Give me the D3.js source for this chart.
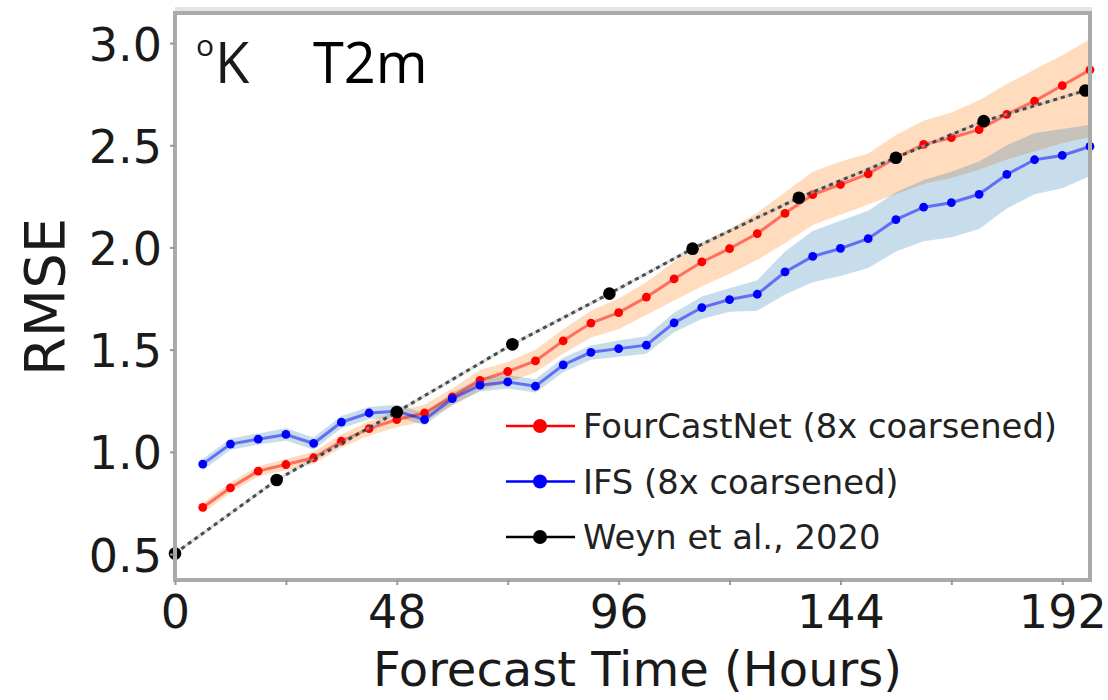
<!DOCTYPE html>
<html>
<head>
<meta charset="utf-8">
<script src="https://cdn.jsdelivr.net/npm/d3@7/dist/d3.min.js"></script>
<style>
  body { margin: 0; background: #fff; }
  svg text { font-family: 'DejaVu Sans', sans-serif; fill: #1a1a1a; }
</style>
</head>
<body>
<script>
// forecast lead times (hours)
const hours = [6, 12, 18, 24, 30, 36, 42, 48, 54, 60, 66, 72, 78, 84, 90, 96, 102,
  108, 114, 120, 126, 132, 138, 144, 150, 156, 162, 168, 174, 180, 186, 192, 198]

const fcn = [0.728, 0.824, 0.906, 0.938, 0.971, 1.052, 1.114, 1.158, 1.19, 1.269, 1.35,
  1.393, 1.445, 1.543, 1.63, 1.681, 1.757, 1.846, 1.929, 1.994, 2.068, 2.167, 2.258,
  2.308, 2.36, 2.439, 2.504, 2.537, 2.576, 2.651, 2.716, 2.792, 2.869]
const fcnLo = [0.70, 0.80, 0.88, 0.91, 0.94, 1.02, 1.08, 1.12, 1.15, 1.225, 1.30,
  1.34, 1.39, 1.48, 1.56, 1.60, 1.67, 1.74, 1.81, 1.87, 1.94, 2.02, 2.11,
  2.16, 2.21, 2.26, 2.31, 2.34, 2.38, 2.43, 2.47, 2.51, 2.54]
const fcnHi = [0.75, 0.85, 0.93, 0.965, 1.00, 1.085, 1.15, 1.20, 1.23, 1.31, 1.40,
  1.44, 1.50, 1.60, 1.69, 1.75, 1.83, 1.93, 2.02, 2.09, 2.17, 2.27, 2.37,
  2.42, 2.46, 2.55, 2.62, 2.66, 2.72, 2.80, 2.87, 2.94, 3.02]

const ifs = [0.94, 1.038, 1.062, 1.085, 1.041, 1.145, 1.19, 1.199, 1.158, 1.26, 1.326,
  1.342, 1.321, 1.425, 1.487, 1.505, 1.522, 1.631, 1.706, 1.745, 1.771, 1.88, 1.956,
  1.995, 2.043, 2.136, 2.197, 2.219, 2.26, 2.357, 2.429, 2.45, 2.494]
const ifsLo = [0.91, 1.01, 1.035, 1.055, 1.01, 1.115, 1.16, 1.17, 1.13, 1.23, 1.295,
  1.31, 1.29, 1.39, 1.45, 1.465, 1.48, 1.585, 1.65, 1.685, 1.69, 1.77, 1.83,
  1.86, 1.90, 1.98, 2.03, 2.05, 2.09, 2.19, 2.26, 2.29, 2.35]
const ifsHi = [0.965, 1.065, 1.09, 1.115, 1.07, 1.175, 1.22, 1.23, 1.19, 1.29, 1.36,
  1.375, 1.355, 1.46, 1.52, 1.545, 1.565, 1.68, 1.76, 1.80, 1.84, 1.98, 2.08,
  2.13, 2.18, 2.27, 2.33, 2.37, 2.42, 2.50, 2.56, 2.58, 2.60]

const weynHours = [0, 22, 48, 73, 94, 112, 135, 156, 175, 197]
const weyn = [0.503, 0.862, 1.195, 1.526, 1.774, 1.994, 2.243, 2.439, 2.618, 2.768]

const xTicks = [0, 24, 48, 72, 96, 120, 144, 168, 192]
const xLabels = [0, 48, 96, 144, 192]
const yTicks = [0.5, 1.0, 1.5, 2.0, 2.5, 3.0]

const legendNames = ['FourCastNet (8x coarsened)', 'IFS (8x coarsened)', 'Weyn et al., 2020']
const legendColors = ['#ff0000', '#0000ff', '#000000']

function renderChart() {
  const width = 1108, height = 700
  const plot = { left: 175, right: 1090, top: 13, bottom: 580 }

  const svg = d3.select('body')
    .append('svg')
    .attr('width', width)
    .attr('height', height)

  const x = d3.scaleLinear()
    .domain([0, 198])
    .range([plot.left, plot.right])

  const y = d3.scaleLinear()
    .domain([0.373, 3.147])
    .range([plot.bottom, plot.top])

  // uncertainty bands
  const band = d3.area()
    .x(d => x(d.h))
    .y0(d => y(d.lo))
    .y1(d => y(d.hi))

  const fcnBand = hours.map((h, i) => ({ h: h, lo: fcnLo[i], hi: fcnHi[i] }))
  const ifsBand = hours.map((h, i) => ({ h: h, lo: ifsLo[i], hi: ifsHi[i] }))

  svg.append('path')
    .datum(fcnBand)
    .attr('d', band)
    .attr('fill', '#ff7f0e')
    .attr('fill-opacity', 0.27)

  svg.append('path')
    .datum(ifsBand)
    .attr('d', band)
    .attr('fill', '#1f77b4')
    .attr('fill-opacity', 0.25)

  const line = d3.line()
    .x(d => x(d[0]))
    .y(d => y(d[1]))

  // FourCastNet
  const fcnPts = hours.map((h, i) => [h, fcn[i]])
  svg.append('path')
    .datum(fcnPts)
    .attr('d', line)
    .attr('fill', 'none')
    .attr('stroke', '#ff0000')
    .attr('stroke-opacity', 0.5)
    .attr('stroke-width', 3)
  svg.append('g')
    .selectAll('circle')
    .data(fcnPts)
    .enter()
    .append('circle')
    .attr('cx', d => x(d[0]))
    .attr('cy', d => y(d[1]))
    .attr('r', 4.4)
    .attr('fill', '#ff0000')

  // IFS
  const ifsPts = hours.map((h, i) => [h, ifs[i]])
  svg.append('path')
    .datum(ifsPts)
    .attr('d', line)
    .attr('fill', 'none')
    .attr('stroke', '#0000ff')
    .attr('stroke-opacity', 0.5)
    .attr('stroke-width', 3)
  svg.append('g')
    .selectAll('circle')
    .data(ifsPts)
    .enter()
    .append('circle')
    .attr('cx', d => x(d[0]))
    .attr('cy', d => y(d[1]))
    .attr('r', 4.4)
    .attr('fill', '#0000ff')

  // Weyn et al. dashed
  const weynPts = weynHours.map((h, i) => [h, weyn[i]])
  svg.append('path')
    .datum(weynPts)
    .attr('d', line)
    .attr('fill', 'none')
    .attr('stroke', '#bbbbbb')
    .attr('stroke-opacity', 0.5)
    .attr('stroke-width', 3)
  svg.append('path')
    .datum(weynPts)
    .attr('d', line)
    .attr('fill', 'none')
    .attr('stroke', '#333333')
    .attr('stroke-opacity', 0.85)
    .attr('stroke-width', 3)
    .attr('stroke-dasharray', '4,4')
  svg.append('g')
    .selectAll('circle')
    .data(weynPts)
    .enter()
    .append('circle')
    .attr('cx', d => x(d[0]))
    .attr('cy', d => y(d[1]))
    .attr('r', 6.3)
    .attr('fill', '#000000')

  // frame
  svg.append('line')
    .attr('x1', plot.left).attr('x2', plot.right + 2)
    .attr('y1', plot.top - 4).attr('y2', plot.top - 4)
    .attr('stroke', '#e4e4e4')
    .attr('stroke-width', 4)
  svg.append('rect')
    .attr('x', plot.left)
    .attr('y', plot.top)
    .attr('width', plot.right - plot.left)
    .attr('height', plot.bottom - plot.top)
    .attr('fill', 'none')
    .attr('stroke', '#aaaaaa')
    .attr('stroke-width', 4)

  // axes
  const xAxis = d3.axisBottom(x)
    .tickValues(xTicks)
    .tickSize(5)
    .tickFormat(d => xLabels.includes(d) ? d : '')

  const gx = svg.append('g')
    .attr('transform', `translate(0, ${plot.bottom})`)
    .call(xAxis)
  gx.select('.domain').remove()
  gx.selectAll('.tick line').attr('stroke', '#999').attr('stroke-width', 2)
  gx.selectAll('.tick text')
    .attr('y', 48)
    .attr('dy', 0)
    .style('font-size', '46px')
    .style('font-family', "'DejaVu Sans', sans-serif")
    .attr('fill', '#1a1a1a')

  const yAxis = d3.axisLeft(y)
    .tickValues(yTicks)
    .tickSize(5)
    .tickFormat(d3.format('.1f'))

  const gy = svg.append('g')
    .attr('transform', `translate(${plot.left}, 0)`)
    .call(yAxis)
  gy.select('.domain').remove()
  gy.selectAll('.tick line').attr('stroke', '#999').attr('stroke-width', 2)
  gy.selectAll('.tick text')
    .attr('x', -13)
    .attr('dy', 17)
    .style('font-size', '46px')
    .style('font-family', "'DejaVu Sans', sans-serif")
    .attr('fill', '#1a1a1a')

  // axis titles
  svg.append('text')
    .attr('x', (plot.left + plot.right) / 2 + 5)
    .attr('y', 686)
    .attr('text-anchor', 'middle')
    .style('font-size', '48px')
    .text('Forecast Time (Hours)')

  svg.append('text')
    .attr('transform', 'translate(64, 297) rotate(-90)')
    .attr('text-anchor', 'middle')
    .style('font-size', '56px')
    .text('RMSE')

  // panel labels
  svg.append('text')
    .attr('x', 196)
    .attr('y', 56)
    .style('font-family', "'Open Sans', sans-serif")
    .style('font-size', '30px')
    .text('o')
  svg.append('text')
    .attr('x', 215)
    .attr('y', 83)
    .style('font-family', "'Open Sans', sans-serif")
    .style('font-size', '56px')
    .text('K')
  svg.append('text')
    .attr('x', 313)
    .attr('y', 83)
    .style('font-family', "'Open Sans', sans-serif")
    .style('font-size', '56px')
    .style('fill', '#000')
    .text('T2m')

  // legend
  const legend = svg.append('g')
    .selectAll('g')
    .data(legendNames)
    .enter()
    .append('g')
    .attr('transform', (d, i) => `translate(506, ${426 + i * 55.5})`)

  legend.append('line')
    .attr('x1', 0).attr('x2', 69)
    .attr('y1', 0).attr('y2', 0)
    .attr('stroke', (d, i) => legendColors[i])
    .attr('stroke-width', 2.5)
  legend.append('circle')
    .attr('cx', 34)
    .attr('cy', 0)
    .attr('r', 7)
    .attr('fill', (d, i) => legendColors[i])
  legend.append('text')
    .attr('x', 77)
    .attr('y', 12)
    .style('font-size', '33.8px')
    .style('fill', '#222')
    .text(d => d)
}

renderChart()
</script>
</body>
</html>
